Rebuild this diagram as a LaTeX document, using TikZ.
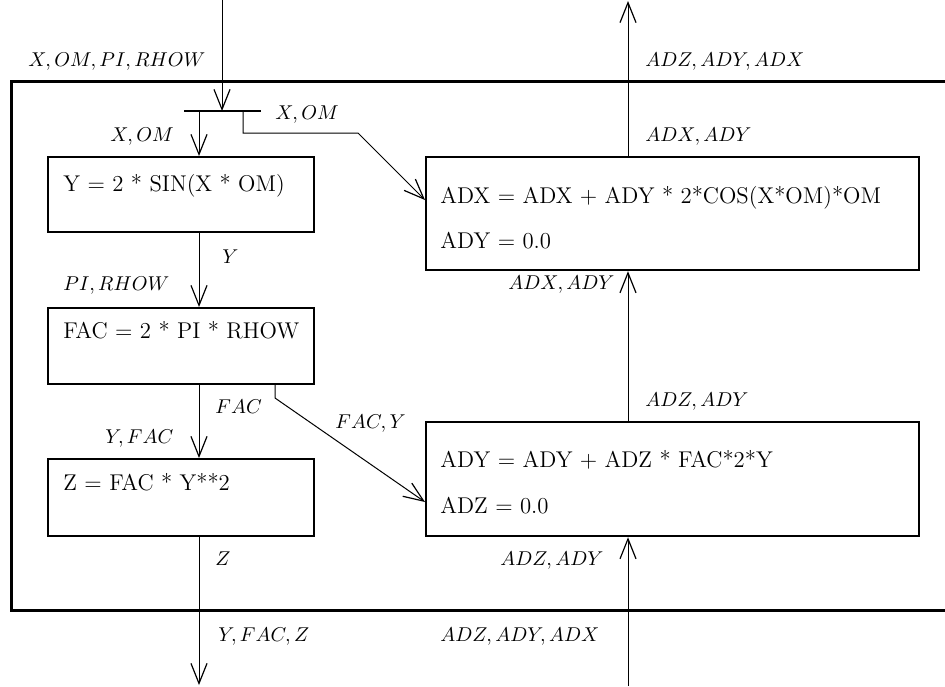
\documentclass[tikz,border=0pt]{standalone}
\usetikzlibrary{arrows.meta}
\begin{document}
\begin{tikzpicture}[x=0.5pt,y=-0.5pt,
  frame/.style={line width=1.5pt},
  box/.style={draw,line width=1.1pt,rectangle,inner sep=0pt,anchor=north west},
  flow/.style={line width=0.5pt,-{Straight Barb[length=10pt,width=8pt,line width=0.6pt]}},
  wire/.style={line width=0.5pt},
  bar/.style={line width=1pt},
  lbl/.style={anchor=base west,inner sep=0pt,font=\fontsize{10}{12}\selectfont},
  txt/.style={anchor=base west,inner sep=0pt,font=\fontsize{11.4}{13}\selectfont}]
\useasboundingbox (0,0) rectangle (945,686);
% outer frame
\draw[frame] (945,81) -- (11,81) -- (11,610) -- (945,610);
% boxes
\node[box,minimum width=133pt,minimum height=37.5pt] (b1) at (47,156) {};
\node[box,minimum width=133pt,minimum height=38pt] (b2) at (47,307) {};
\node[box,minimum width=133pt,minimum height=38.5pt] (b3) at (47,458) {};
\node[box,minimum width=246.5pt,minimum height=56.5pt] (b4) at (425,156) {};
\node[box,minimum width=246.5pt,minimum height=57pt] (b5) at (425,421) {};
% box texts
\node[txt] (t1) at (63,191) {Y = 2 * SIN(X * OM)};
\node[txt] (t2) at (63,338) {FAC = 2 * PI * RHOW};
\node[txt] (t3) at (63,490) {Z = FAC * Y**2};
\node[txt] (t4a) at (440,203) {ADX = ADX + ADY * 2*COS(X*OM)*OM};
\node[txt] (t4b) at (440,248) {ADY = 0.0};
\node[txt] (t5a) at (440,467) {ADY = ADY + ADZ * FAC*2*Y};
\node[txt] (t5b) at (440,513) {ADZ = 0.0};
% coordinates
\coordinate (in) at (222,0);
\coordinate (barL) at (184,111);
\coordinate (barR) at (261,111);
\coordinate (barM) at (222,111);
\coordinate (brL) at (199,111);
\coordinate (brR) at (243,111);
\coordinate (k1) at (243,133);
\coordinate (k2) at (358,133);
\coordinate (outB) at (199,685);
\coordinate (inB) at (628,686);
\coordinate (outT) at (628,1);
\coordinate (f1) at (275,398);
% splitter bar
\draw[bar] (barL) -- (barR);
% connectors
\draw[flow] (in) -- (barM);
\draw[flow] (brL) -- (brL |- b1.north);
\draw[flow] (brR) -- (k1) -- (k2) -- (b4.west |- 0,200);
\draw[flow] (b1.south -| brL) -- (brL |- b2.north);
\draw[flow] (b2.south -| brL) -- (brL |- b3.north);
\draw[flow] (b2.south -| f1) -- (f1) -- (b5.west |- 0,502);
\draw[flow] (b3.south -| brL) -- (outB);
\draw[flow] (inB) -- (inB |- b5.south);
\draw[flow] (b5.north -| inB) -- (inB |- b4.south);
\draw[flow] (b4.north -| inB) -- (outT);
% labels
\node[lbl] (l1) at (28,66) {$X,OM,PI,RHOW$};
\node[lbl] (l2) at (275,119) {$X,OM$};
\node[lbl] (l3) at (110,141) {$X,OM$};
\node[lbl] (l4) at (222,263) {$Y$};
\node[lbl] (l5) at (63,290) {$PI,RHOW$};
\node[lbl] (l6) at (215,413) {$FAC$};
\node[lbl] (l7) at (335,428) {$FAC,Y$};
\node[lbl] (l8) at (105,443) {$Y,FAC$};
\node[lbl] (l9) at (215,565) {$Z$};
\node[lbl] (l10) at (218,641) {$Y,FAC,Z$};
\node[lbl] (l11) at (645,66) {$ADZ,ADY,ADX$};
\node[lbl] (l12) at (645,141) {$ADX,ADY$};
\node[lbl] (l13) at (508,289) {$ADX,ADY$};
\node[lbl] (l14) at (645,406) {$ADZ,ADY$};
\node[lbl] (l15) at (500,565) {$ADZ,ADY$};
\node[lbl] (l16) at (440,641) {$ADZ,ADY,ADX$};
\end{tikzpicture}
\end{document}
